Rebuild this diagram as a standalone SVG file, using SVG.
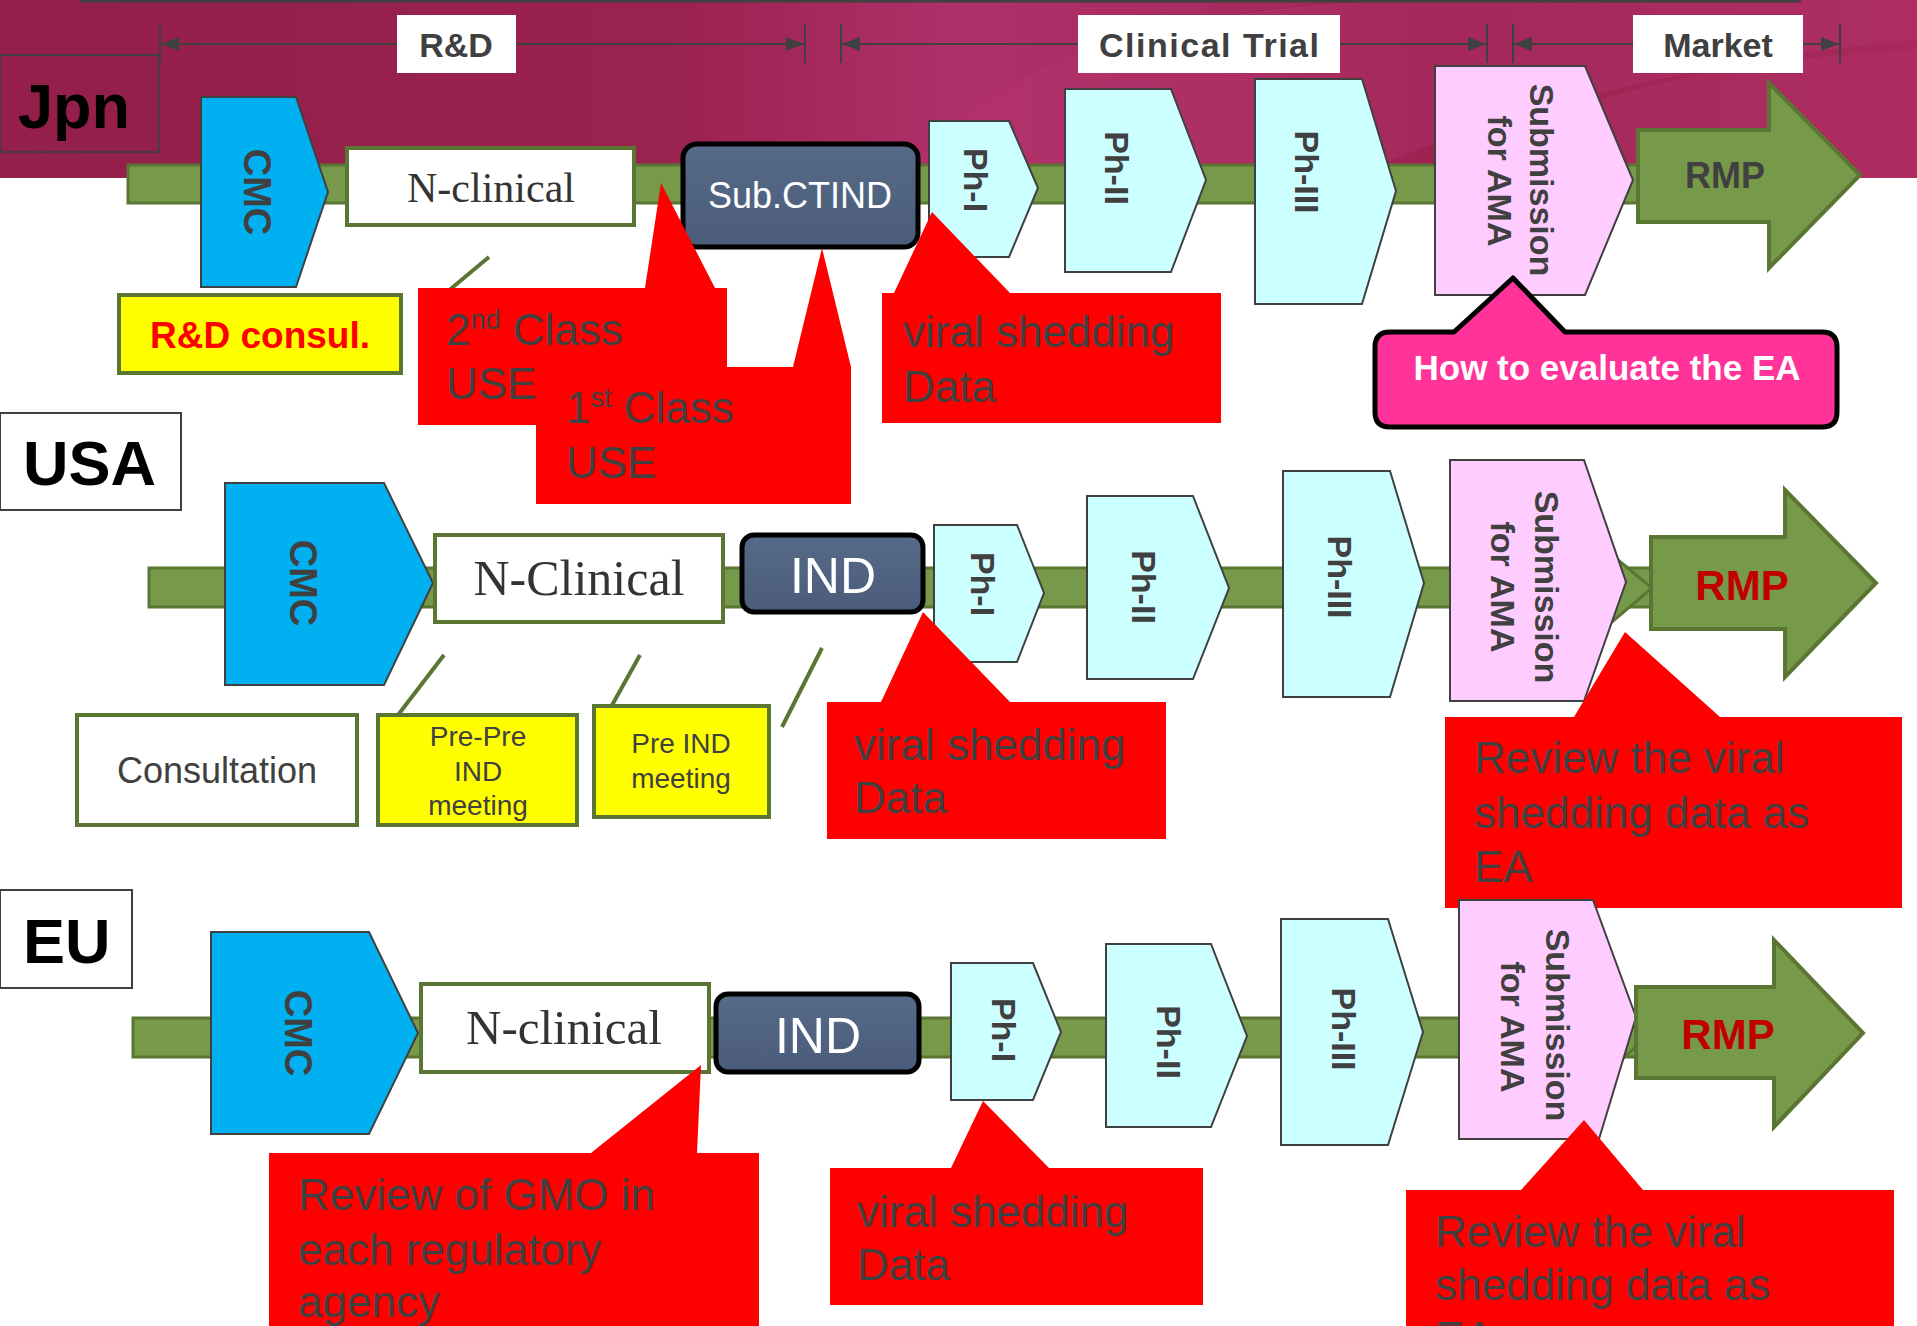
<svg xmlns="http://www.w3.org/2000/svg" width="1917" height="1326" viewBox="0 0 1917 1326">
<defs>
<linearGradient id="band" x1="0" y1="0" x2="1" y2="0">
<stop offset="0" stop-color="#931F4A"/>
<stop offset="0.35" stop-color="#9A224F"/>
<stop offset="0.5" stop-color="#B0306A"/>
<stop offset="0.62" stop-color="#A92C62"/>
<stop offset="0.75" stop-color="#9B2251"/>
<stop offset="1" stop-color="#A8295C"/>
</linearGradient>
<linearGradient id="slate" x1="0" y1="0" x2="0" y2="1">
<stop offset="0" stop-color="#566A88"/>
<stop offset="1" stop-color="#4A5C7A"/>
</linearGradient>
<marker id="ah" viewBox="0 0 18 14" refX="18" refY="7" markerWidth="18" markerHeight="14" markerUnits="userSpaceOnUse" orient="auto-start-reverse">
<path d="M0,0 L18,7 L0,14 Z" fill="#404040"/>
</marker>
<clipPath id="bandclip"><rect x="0" y="0" width="1917" height="178"/></clipPath>
</defs>
<style>
.bar{fill:#77994A;stroke:#5B7533;stroke-width:3}
.pent{fill:#00B0F0;stroke:#404040;stroke-width:2}
.ph{fill:#CCFFFF;stroke:#404040;stroke-width:2}
.sub{fill:#FFCCFF;stroke:#404040;stroke-width:2}
.rmp{fill:#77994A;stroke:#5B7533;stroke-width:4}
.ncl{fill:#FFFFFF;stroke:#5B7533;stroke-width:4}
.ind{fill:url(#slate);stroke:#000000;stroke-width:5}
.yel{fill:#FFFF00;stroke:#5B7533;stroke-width:4}
.red{fill:#FF0000}
.lbl{fill:#FFFFFF}
.cty{fill:#FFFFFF;stroke:#404040;stroke-width:2}
.dim{stroke:#404040;stroke-width:2;fill:none}
.stub{stroke:#5B7533;stroke-width:4;fill:none}
.sans{font-family:"Liberation Sans",Arial,sans-serif}
.serif{font-family:"Liberation Serif","Times New Roman",serif;fill:#333333}
.rot{font-family:"Liberation Sans",Arial,sans-serif;font-weight:bold;font-size:34px;fill:#404040;text-anchor:middle;dominant-baseline:central}
.hdr{font-family:"Liberation Sans",Arial,sans-serif;font-weight:bold;font-size:34px;fill:#404040;text-anchor:middle}
.rtxt{font-family:"Liberation Sans",Arial,sans-serif;font-size:44px;fill:#404040}
.country{font-family:"Liberation Sans",Arial,sans-serif;font-weight:bold;font-size:63px;fill:#000000}
</style>

<rect x="0" y="0" width="1917" height="1326" fill="#FFFFFF"/>
<g id="background">
<rect x="0" y="0" width="1917" height="178" fill="url(#band)"/>
<g clip-path="url(#bandclip)">
<path d="M900,178 C1000,60 1150,10 1400,0 L1917,0 L1917,40 C1700,60 1500,110 1350,178 Z" fill="#B8376F" opacity="0.35"/>
<path d="M1450,178 C1550,100 1700,60 1917,50 L1917,178 Z" fill="#B8376F" opacity="0.3"/>
</g>
<line x1="80" y1="1" x2="1801" y2="1" stroke="#404040" stroke-width="3"/>
</g>

<g id="connectors">
<line class="dim" x1="160" y1="24" x2="160" y2="63"/>
<line class="dim" x1="805" y1="24" x2="805" y2="63"/>
<line class="dim" x1="841" y1="24" x2="841" y2="63"/>
<line class="dim" x1="1487" y1="24" x2="1487" y2="63"/>
<line class="dim" x1="1513" y1="24" x2="1513" y2="63"/>
<line class="dim" x1="1840" y1="24" x2="1840" y2="63"/>
<line class="dim" x1="161" y1="44" x2="804" y2="44" marker-start="url(#ah)" marker-end="url(#ah)"/>
<line class="dim" x1="842" y1="44" x2="1486" y2="44" marker-start="url(#ah)" marker-end="url(#ah)"/>
<line class="dim" x1="1514" y1="44" x2="1839" y2="44" marker-start="url(#ah)" marker-end="url(#ah)"/>
<line class="stub" x1="489" y1="257" x2="447" y2="292"/>
<line class="stub" x1="444" y1="655" x2="398" y2="715"/>
<line class="stub" x1="640" y1="655" x2="611" y2="707"/>
<line class="stub" x1="822" y1="648" x2="782" y2="727"/>
</g>

<g id="phase-labels">
<g id="lbl-rd"><rect class="lbl" x="397" y="15" width="119" height="58"/><text class="hdr" x="456" y="57">R&amp;D</text></g>
<g id="lbl-ct"><rect class="lbl" x="1078" y="15" width="262" height="58"/><text class="hdr" x="1209" y="57" textLength="220">Clinical Trial</text></g>
<g id="lbl-mk"><rect class="lbl" x="1633" y="15" width="170" height="58"/><text class="hdr" x="1718" y="57">Market</text></g>
</g>

<g id="jpn">
<g id="jpn-label"><rect x="0" y="55" width="159" height="97" fill="none" stroke="#404040" stroke-width="2"/><text class="country" x="18" y="128">Jpn</text></g>
<rect id="jpn-bar" class="bar" x="128" y="165" width="1520" height="38"/>
<g id="jpn-cmc"><polygon class="pent" points="201,97 296,97 328,192 296,287 201,287"/><text class="rot" style="font-size:38px" transform="translate(257,192) rotate(90)">CMC</text></g>
<g id="jpn-ncl"><rect class="ncl" x="347" y="148" width="287" height="77"/><text class="serif" x="491" y="202" font-size="42" text-anchor="middle">N-clinical</text></g>
<g id="jpn-ctind"><rect class="ind" x="683" y="144" width="235" height="103" rx="14"/><text class="sans" x="800" y="208" font-size="36" fill="#FFFFFF" text-anchor="middle">Sub.CTIND</text></g>
<g id="jpn-ph1"><polygon class="ph" points="929,121 1009,121 1038,188 1009,257 929,257"/><text class="rot" transform="translate(976,180) rotate(90)">Ph-I</text></g>
<g id="jpn-ph2"><polygon class="ph" points="1065,89 1171,89 1206,180 1171,272 1065,272"/><text class="rot" transform="translate(1117,168) rotate(90)">Ph-II</text></g>
<g id="jpn-ph3"><polygon class="ph" points="1255,79 1362,79 1396,191 1362,304 1255,304"/><text class="rot" transform="translate(1307,172) rotate(90)">Ph-III</text></g>
<g id="jpn-sub"><polygon class="sub" points="1435,66 1585,66 1633,180 1585,295 1435,295"/><text class="rot" transform="translate(1542,180) rotate(90)">Submission</text><text class="rot" transform="translate(1500,181) rotate(90)">for AMA</text></g>
<g id="jpn-rmp"><polygon class="rmp" points="1638,130 1769,130 1769,83 1860,175 1769,268 1769,222 1638,222"/><text class="sans" x="1725" y="188" font-size="36" font-weight="bold" fill="#404040" text-anchor="middle">RMP</text></g>
<g id="jpn-rdconsul"><rect class="yel" x="119" y="295" width="282" height="78"/><text class="sans" x="260" y="348" font-size="37" font-weight="bold" fill="#FF0000" text-anchor="middle">R&amp;D consul.</text></g>
<g id="jpn-2nd"><path class="red" d="M418,288 H645 L661,183 L715,288 H727 V425 H418 Z"/><text class="rtxt" x="446" y="345">2<tspan font-size="27" dy="-16">nd</tspan><tspan dy="16"> Class</tspan></text><text class="rtxt" x="446" y="399">USE</text></g>
<g id="jpn-1st"><path class="red" d="M536,367 H793 L822,248 L851,367 V504 H536 Z"/><text class="rtxt" x="566" y="423">1<tspan font-size="27" dy="-16">st</tspan><tspan dy="16"> Class</tspan></text><text class="rtxt" x="566" y="478">USE</text></g>
<g id="jpn-viral"><path class="red" d="M882,293 H894 L932,212 L1010,293 H1221 V423 H882 Z"/><text class="rtxt" x="903" y="347">viral shedding</text><text class="rtxt" x="903" y="402">Data</text></g>
<g id="jpn-ea"><path d="M1390,332 H1454 L1513,278 L1565,332 H1822 Q1837,332 1837,347 V412 Q1837,427 1822,427 H1390 Q1375,427 1375,412 V347 Q1375,332 1390,332 Z" fill="#FF3399" stroke="#000000" stroke-width="5" stroke-linejoin="round"/><text class="sans" x="1607" y="380" font-size="35" font-weight="bold" fill="#FFFFFF" text-anchor="middle">How to evaluate the EA</text></g>
</g>

<g id="usa">
<g id="usa-label"><rect class="cty" x="0" y="413" width="181" height="97"/><text class="country" x="23" y="485">USA</text></g>
<rect id="usa-bar" class="bar" x="149" y="568" width="1510" height="39"/>
<polygon id="usa-bar-tip" class="bar" points="1600,545 1652,588 1600,632"/>
<g id="usa-cmc"><polygon class="pent" points="225,483 384,483 433,583 384,685 225,685"/><text class="rot" style="font-size:38px" transform="translate(303,583) rotate(90)">CMC</text></g>
<g id="usa-ncl"><rect class="ncl" x="435" y="535" width="288" height="87"/><text class="serif" x="579" y="595" font-size="50" text-anchor="middle">N-Clinical</text></g>
<g id="usa-ind"><rect class="ind" x="742" y="535" width="181" height="77" rx="12"/><text class="sans" x="833" y="593" font-size="50" fill="#FFFFFF" text-anchor="middle">IND</text></g>
<g id="usa-ph1"><polygon class="ph" points="934,525 1017,525 1044,593 1017,662 934,662"/><text class="rot" transform="translate(983,584) rotate(90)">Ph-I</text></g>
<g id="usa-ph2"><polygon class="ph" points="1087,496 1193,496 1229,588 1193,679 1087,679"/><text class="rot" transform="translate(1144,587) rotate(90)">Ph-II</text></g>
<g id="usa-ph3"><polygon class="ph" points="1283,471 1390,471 1424,583 1390,697 1283,697"/><text class="rot" transform="translate(1340,577) rotate(90)">Ph-III</text></g>
<g id="usa-sub"><polygon class="sub" points="1450,460 1584,460 1626,582 1584,701 1450,701"/><text class="rot" transform="translate(1547,587) rotate(90)">Submission</text><text class="rot" transform="translate(1503,587) rotate(90)">for AMA</text></g>
<g id="usa-rmp"><polygon class="rmp" points="1651,537 1785,537 1785,490 1876,583 1785,677 1785,629 1651,629"/><text class="sans" x="1742" y="600" font-size="42" font-weight="bold" fill="#C00000" text-anchor="middle">RMP</text></g>
<g id="usa-consult"><rect class="ncl" x="77" y="715" width="280" height="110"/><text class="sans" x="217" y="783" font-size="36" fill="#404040" text-anchor="middle">Consultation</text></g>
<g id="usa-preprend"><rect class="yel" x="378" y="715" width="199" height="110"/><text class="sans" font-size="28" fill="#404040" text-anchor="middle"><tspan x="478" y="746">Pre-Pre</tspan><tspan x="478" y="781">IND</tspan><tspan x="478" y="815">meeting</tspan></text></g>
<g id="usa-preind"><rect class="yel" x="594" y="706" width="175" height="111"/><text class="sans" font-size="28" fill="#404040" text-anchor="middle"><tspan x="681" y="753">Pre IND</tspan><tspan x="681" y="788">meeting</tspan></text></g>
<g id="usa-viral"><path class="red" d="M827,702 H881 L923,612 L1010,702 H1166 V839 H827 Z"/><text class="rtxt" x="854" y="760">viral shedding</text><text class="rtxt" x="854" y="813">Data</text></g>
<g id="usa-review"><path class="red" d="M1445,717 H1574 L1625,632 L1720,717 H1902 V908 H1445 Z"/><text class="rtxt" x="1474" y="773">Review the viral</text><text class="rtxt" x="1474" y="828">shedding data as</text><text class="rtxt" x="1474" y="882">EA</text></g>
</g>

<g id="eu">
<g id="eu-label"><rect class="cty" x="0" y="890" width="132" height="98"/><text class="country" x="23" y="963">EU</text></g>
<rect id="eu-bar" class="bar" x="133" y="1018" width="1510" height="39"/>
<polygon id="eu-bar-tip" class="bar" points="1600,995 1646,1037 1600,1080"/>
<g id="eu-cmc"><polygon class="pent" points="211,932 369,932 418,1033 369,1134 211,1134"/><text class="rot" style="font-size:38px" transform="translate(298,1033) rotate(90)">CMC</text></g>
<g id="eu-ncl"><rect class="ncl" x="421" y="984" width="288" height="88"/><text class="serif" x="564" y="1044" font-size="49" text-anchor="middle">N-clinical</text></g>
<g id="eu-ind"><rect class="ind" x="716" y="994" width="203" height="78" rx="12"/><text class="sans" x="818" y="1053" font-size="50" fill="#FFFFFF" text-anchor="middle">IND</text></g>
<g id="eu-ph1"><polygon class="ph" points="951,963 1033,963 1061,1032 1033,1100 951,1100"/><text class="rot" transform="translate(1004,1030) rotate(90)">Ph-I</text></g>
<g id="eu-ph2"><polygon class="ph" points="1106,944 1211,944 1247,1036 1211,1127 1106,1127"/><text class="rot" transform="translate(1169,1042) rotate(90)">Ph-II</text></g>
<g id="eu-ph3"><polygon class="ph" points="1281,919 1388,919 1423,1032 1388,1145 1281,1145"/><text class="rot" transform="translate(1344,1029) rotate(90)">Ph-III</text></g>
<g id="eu-sub"><polygon class="sub" points="1459,900 1593,900 1636,1017 1599,1139 1459,1139"/><text class="rot" transform="translate(1558,1025) rotate(90)">Submission</text><text class="rot" transform="translate(1513,1027) rotate(90)">for AMA</text></g>
<g id="eu-rmp"><polygon class="rmp" points="1636,987 1774,987 1774,940 1863,1033 1774,1127 1774,1078 1636,1078"/><text class="sans" x="1728" y="1049" font-size="42" font-weight="bold" fill="#C00000" text-anchor="middle">RMP</text></g>
<g id="eu-gmo"><path class="red" d="M269,1153 H591 L701,1065 L697,1153 H759 V1340 H269 Z"/><text class="rtxt" x="298" y="1210">Review of GMO in</text><text class="rtxt" x="298" y="1265">each regulatory</text><text class="rtxt" x="298" y="1317">agency</text></g>
<g id="eu-viral"><path class="red" d="M830,1168 H951 L983,1101 L1049,1168 H1203 V1305 H830 Z"/><text class="rtxt" x="857" y="1227">viral shedding</text><text class="rtxt" x="857" y="1280">Data</text></g>
<g id="eu-review"><path class="red" d="M1406,1190 H1521 L1584,1120 L1643,1190 H1894 V1340 H1406 Z"/><text class="rtxt" x="1435" y="1247">Review the viral</text><text class="rtxt" x="1435" y="1300">shedding data as</text><text class="rtxt" x="1435" y="1353">EA</text></g>
</g>
</svg>
